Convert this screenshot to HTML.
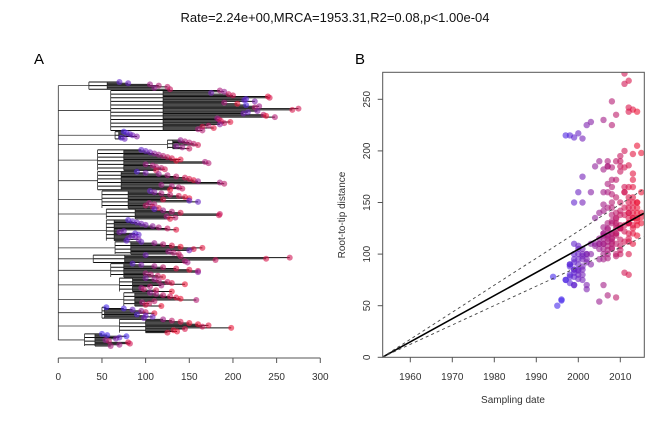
<!DOCTYPE html>
<html><head><meta charset="utf-8"><style>
body{margin:0;background:#fff;font-family:"Liberation Sans",Arial,sans-serif}
svg text{font-family:"Liberation Sans",Arial,sans-serif}
</style></head><body>
<svg id="c" width="669" height="419" viewBox="0 0 669 419">
<text x="335" y="22" text-anchor="middle" font-size="13" fill="#111">Rate=2.24e+00,MRCA=1953.31,R2=0.08,p&lt;1.00e-04</text>
<text x="34" y="64" font-size="15" fill="#000">A</text>
<text x="355" y="64" font-size="15" fill="#000">B</text>
<g id="tree"></g>
<g id="scat"></g>
</svg>
<script>
// clade data: depth of clade node, tips as [date, root-to-tip distance]
const cladeDepths=[35,60,65,125,45,45,50,55,55,65,40,60,70,75,50,70,30];
const cladeTips=[
[[1999,70],[2000,80],[2006,105],[2008,115],[2009,125],[2005,110],[2010,128]],
[[2007,185],[2005,190],[2001,175],[2010,195],[2011,200],[2013,240],[2012,242],[1998,215],[1999,213],[2002,225],[2007,190],[2014,205],[1997,215],[2006,230],[2008,225],[2011,275],[2012,268],[2003,228],[2000,217],[2001,212],[2009,235],[2014,238],[2008,248],[2006,182],[2008,184],[2012,186],[2013,197],[2010,190],[2004,185],[2009,172],[2012,165],[2013,178],[2007,160],[2008,165]],
[[1997,75],[1998,78],[1999,82],[2001,85],[2003,90],[1998,72],[2000,76]],
[[2005,140],[2007,145],[2008,150],[2009,155],[2011,160],[2004,135],[2006,142],[2010,150]],
[[1999,95],[2000,100],[2001,105],[2004,110],[2006,115],[2008,120],[2010,125],[2012,130],[2013,140],[2014,135],[2007,168],[2008,172],[2006,100],[2007,108],[2008,112],[2009,118],[2011,122],[2012,112]],
[[1998,90],[2002,100],[2005,115],[2007,125],[2009,135],[2011,145],[2012,150],[2013,155],[2006,160],[2007,185],[2009,190],[2006,118],[2007,130],[2008,138],[2010,142],[2014,128]],
[[2000,105],[2003,110],[2007,118],[2009,128],[2011,138],[2013,145],[2014,150],[2012,120],[1999,150],[2000,160],[2007,104],[2008,110],[2009,100],[2010,108],[2012,115]],
[[1999,110],[2006,120],[2008,130],[2012,140],[2010,185],[2011,184],[2007,124],[2009,134],[2013,128]],
[[1998,80],[1999,85],[2000,90],[2001,95],[2002,100],[2004,108],[2007,115],[2010,125],[2013,135],[2001,75],[2002,70],[1998,88],[1999,92],[2000,84],[2001,88],[2001,80],[2002,92],[1999,78]],
[[2000,95],[2005,110],[2008,120],[2012,130],[2014,140],[2013,165],[2012,155],[2001,150],[2006,126],[2008,132],[2010,138]],
[[2001,100],[2009,140],[2011,265],[2012,238],[2010,180],[2008,145],[2006,148]],
[[1999,85],[2002,95],[2006,110],[2009,120],[2012,135],[2013,150],[2011,160],[2003,160],[2007,100],[2008,106],[2010,114],[2013,120]],
[[2003,100],[2006,110],[2008,115],[2010,125],[2012,130],[2014,145],[2007,118],[2008,105],[2006,95],[2009,98],[2011,112],[2015,130]],
[[2005,105],[2007,112],[2009,120],[2011,128],[2013,135],[2015,140],[2008,158],[2009,110],[2007,96],[2010,104],[2012,100],[2014,118]],
[[1996,55],[1997,75],[2000,85],[2005,95],[2010,100],[2013,110],[1998,90],[1999,100],[2000,108],[2001,98]],
[[2006,120],[2009,130],[2012,140],[2014,150],[2015,160],[2013,172],[2011,165],[2015,198],[2012,145],[2014,132],[2015,136],[2013,125]],
[[1995,50],[1996,56],[1994,78],[1999,70],[2002,66],[2005,54],[2009,58],[2012,80],[2011,82],[2006,70],[2007,60]]
];
const treeTicks=[0,50,100,150,200,250,300];
const xTicks=[1960,1970,1980,1990,2000,2010];
const yTicks=[0,50,100,150,200,250];
const mrca=1953.31, rate=2.24, upperEnd=163, lowerEnd=117;

const NS='http://www.w3.org/2000/svg';
function mk(tag,attrs,parent){const e=document.createElementNS(NS,tag);for(const k in attrs)e.setAttribute(k,attrs[k]);parent.appendChild(e);return e;}
function col(yr,a){let t=Math.max(0,Math.min(1,(yr-1996)/18));const r=Math.round(70+t*165),g=Math.round(40-t*20),b=Math.round(235-t*180);return `rgba(${r},${g},${b},${a})`;}

// tree
const tree=document.getElementById('tree');
const tx=d=>58.3+d*0.8733;
const allTips=[];cladeTips.forEach((c,ci)=>c.forEach(t=>allTips.push([ci,t])));
const N=allTips.length, y0=82, y1=346;
const ty=i=>y0+(y1-y0)*i/(N-1);
let idx=0;const mids=[];
cladeTips.forEach((c,ci)=>{
  const d=cladeDepths[ci];const first=idx;
  const minD=Math.min(...c.map(t=>t[1]));
  const sub=d+(minD-d)*0.6;
  c.forEach((t,k)=>{
    const y=ty(idx);
    const start=(k%3===0)?d:sub;
    const br=mk('line',{x1:tx(start),x2:tx(t[1]),y1:y,y2:y,stroke:'#111','stroke-width':1},tree);
    
    
    idx++;
  });
  const last=idx-1;
  const v=mk('line',{x1:tx(d),x2:tx(d),y1:ty(first),y2:ty(last),stroke:'#333','stroke-width':0.8},tree);
  
  
  const v2=mk('line',{x1:tx(sub),x2:tx(sub),y1:ty(first),y2:ty(last),stroke:'#222','stroke-width':0.8},tree);
  
  
  const m=(ty(first)+ty(last))/2;mids.push(m);
  const h=mk('line',{x1:tx(0),x2:tx(d),y1:m,y2:m,stroke:'#333','stroke-width':0.8},tree);
  
  
});
const rv=mk('line',{x1:tx(0),x2:tx(0),y1:mids[0],y2:mids[mids.length-1],stroke:'#333','stroke-width':0.8},tree);


idx=0;
allTips.forEach(([ci,t])=>{
  const p=mk('circle',{cx:tx(t[1]),cy:ty(idx),r:3,fill:col(t[0],0.6)},tree);
  
  
  idx++;
});
const ta=mk('line',{x1:tx(0),x2:tx(300),y1:358,y2:358,stroke:'#555'},tree);


treeTicks.forEach(v=>{
  mk('line',{x1:tx(v),x2:tx(v),y1:358,y2:363,stroke:'#555'},tree);
  const t=mk('text',{x:tx(v),y:380,'text-anchor':'middle','font-size':10,fill:'#333'},tree);t.textContent=v;
  
  
});

// scatter
const sc=document.getElementById('scat');
const sx=yr=>410.3+(yr-1960)*4.2, sy=v=>357.3-v*1.032;
const L=382.7,R=644.3,T=72.3,B=357.3;
const cp=mk('clipPath',{id:'cp'},sc);
mk('rect',{x:L,y:T,width:R-L,height:B-T},cp);
const pg=mk('g',{'clip-path':'url(#cp)'},sc);
allTips.forEach(([ci,t])=>{
  const p=mk('circle',{cx:sx(t[0]),cy:sy(t[1]),r:3.2,fill:col(t[0],0.6)},pg);
  
  
});
const xEnd=mrca+(R-L)/4.2;
const rl=mk('line',{x1:sx(mrca),y1:sy(0),x2:sx(xEnd),y2:sy(rate*(xEnd-mrca)),stroke:'#000','stroke-width':1.6},pg);


[upperEnd,lowerEnd].forEach(e=>{
  const d=mk('line',{x1:sx(mrca),y1:sy(0),x2:sx(xEnd),y2:sy(e),stroke:'#444','stroke-width':0.9,'stroke-dasharray':'3,3'},pg);
  
  
});
const bx=mk('rect',{x:L,y:T,width:R-L,height:B-T,fill:'none',stroke:'#555'},sc);


xTicks.forEach(v=>{
  mk('line',{x1:sx(v),x2:sx(v),y1:B,y2:B+5,stroke:'#555'},sc);
  const t=mk('text',{x:sx(v),y:380,'text-anchor':'middle','font-size':10,fill:'#333'},sc);t.textContent=v;
  
  
});
yTicks.forEach(v=>{
  mk('line',{x1:L,x2:L-5,y1:sy(v),y2:sy(v),stroke:'#555'},sc);
  const t=mk('text',{x:370,y:sy(v),'text-anchor':'middle','font-size':10,fill:'#333',transform:`rotate(-90 370 ${sy(v)})`},sc);t.textContent=v;
  
  
});
const xl=mk('text',{x:513,y:403,'text-anchor':'middle','font-size':10,fill:'#333'},sc);xl.textContent='Sampling date';


const yl=mk('text',{x:345,y:215,'text-anchor':'middle','font-size':10,fill:'#333',transform:'rotate(-90 345 215)'},sc);yl.textContent='Root-to-tip distance';


</script>
</body></html>
